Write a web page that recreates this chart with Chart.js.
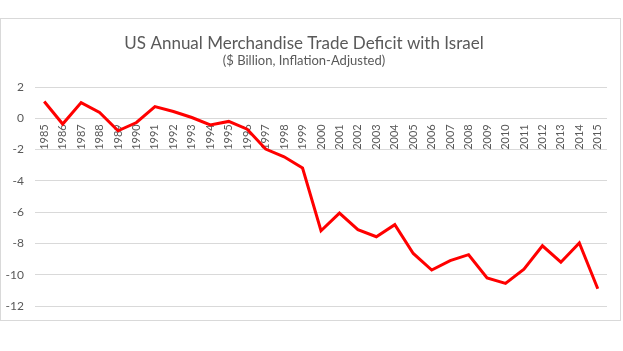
<!DOCTYPE html>
<html>
<head>
<meta charset="utf-8">
<script src="https://cdn.jsdelivr.net/npm/chart.js@4"></script>
<style>
  body { margin: 0; background: #fff; }
  #marco {
    position: absolute; left: 0; top: 18px;
    width: 621px; height: 303px;
    box-sizing: border-box;
    border: 1px solid #d9d9d9;
    background: #fff;
  }
  #grafico { display: block; }
</style>
</head>
<body>
<div id="marco"><canvas id="grafico" width="619" height="301"></canvas></div>
<script>
// Años (categorías)
const anios = ['1985','1986','1987','1988','1989','1990','1991','1992','1993','1994',
  '1995','1996','1997','1998','1999','2000','2001','2002','2003','2004','2005',
  '2006','2007','2008','2009','2010','2011','2012','2013','2014','2015'];

// Balance comercial en miles de millones de dólares (ajustado por inflación)
const deficit = [1.07, -0.37, 1.0, 0.37, -0.8, -0.27, 0.75, 0.43, 0.05, -0.42,
  -0.2, -0.7, -1.97, -2.46, -3.18, -7.19, -6.06, -7.12, -7.57, -6.8, -8.64,
  -9.7, -9.1, -8.72, -10.2, -10.55, -9.64, -8.15, -9.2, -7.97, -10.9];

const tituloTexto = 'US Annual Merchandise Trade Deficit with Israel';
const subtituloTexto = '($ Billion, Inflation-Adjusted)';

const fuente = 'Lato, "Open Sans", sans-serif';
const gris = '#595959';

const ctx = document.getElementById('grafico').getContext('2d');
new Chart(ctx, {
    type: 'line',
    data: {
        labels: anios,
        datasets: [{
            data: deficit,
            borderColor: '#ff0000',
            borderWidth: 3,
            pointRadius: 0,
            tension: 0,
            fill: false
        }]
    },
    options: {
        responsive: false,
        animation: false,
        layout: { padding: { left: 0, right: 13, top: 0, bottom: 14 } },
        plugins: {
            legend: { display: false },
            tooltip: { enabled: false },
            title: {
                display: true,
                text: tituloTexto,
                color: gris,
                font: { family: fuente, size: 17, weight: 'normal' },
                padding: { top: 14, bottom: 0 }
            },
            subtitle: {
                display: true,
                text: subtituloTexto,
                color: gris,
                font: { family: fuente, size: 13, weight: 'normal' },
                padding: { top: 0, bottom: 18 }
            }
        },
        scales: {
            x: {
                position: { y: 0 },
                offset: true,
                grid: { display: false, drawTicks: false },
                border: { display: false },
                ticks: {
                    color: gris,
                    font: { family: fuente, size: 11 },
                    minRotation: 90,
                    maxRotation: 90,
                    autoSkip: false,
                    padding: 6
                }
            },
            y: {
                min: -12,
                max: 2,
                // ancho fijo del eje y sin relleno vertical extra
                afterFit: (escala) => {
                    escala.width = 34;
                    escala.paddingTop = 0;
                    escala.paddingBottom = 0;
                },
                grid: { color: '#d9d9d9', lineWidth: 1, drawTicks: false },
                border: { display: false },
                ticks: {
                    stepSize: 2,
                    color: gris,
                    font: { family: fuente, size: 12 },
                    padding: 11
                }
            }
        }
    }
});
</script>
</body>
</html>
